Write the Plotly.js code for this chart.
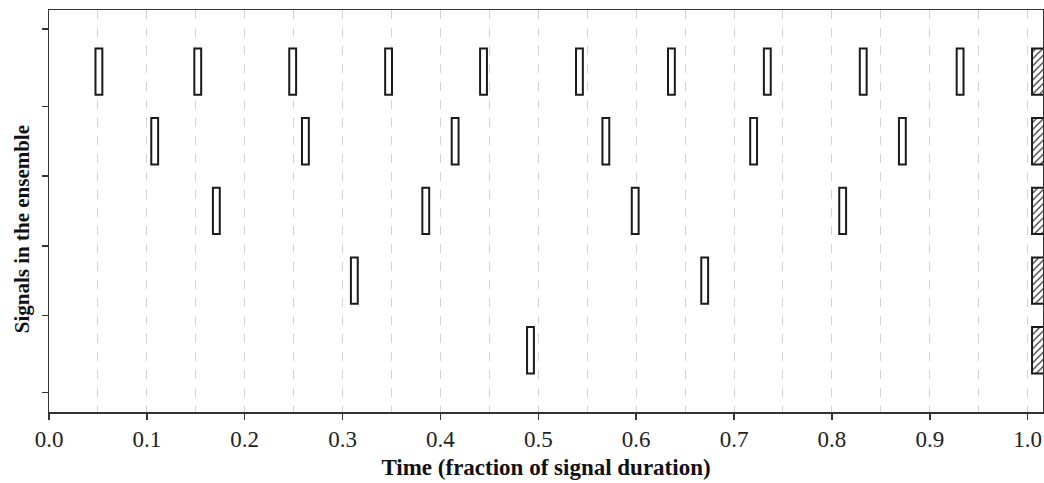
<!DOCTYPE html>
<html>
<head>
<meta charset="utf-8">
<script src="https://cdn.plot.ly/plotly-3.0.1.min.js"></script>
<style>
html, body { margin: 0; padding: 0; background: #fff; }
#chart { width: 1044px; height: 483px; }
</style>
</head>
<body>
<div id="chart"></div>
<script>
// Signal rows (5 = top row, 1 = bottom row) and pulse times (fraction of signal duration)
const rows = [5, 4, 3, 2, 1];
const pulseTimes = [
  [0.051, 0.152, 0.249, 0.347, 0.444, 0.542, 0.636, 0.734, 0.832, 0.931],
  [0.108, 0.262, 0.415, 0.569, 0.720, 0.872],
  [0.171, 0.385, 0.599, 0.811],
  [0.312, 0.670],
  [0.492]
];
// Common end pulse (hatched) start time for every signal
const endPulseStart = 1.0045;
const xTickVals = [0, 0.1, 0.2, 0.3, 0.4, 0.5, 0.6, 0.7, 0.8, 0.9, 1.0];
const xTickText = ["0.0", "0.1", "0.2", "0.3", "0.4", "0.5", "0.6", "0.7", "0.8", "0.9", "1.0"];
const yTickVals = [0.39, 1.5, 2.5, 3.5, 4.5, 5.61];

const pulseWidth = 0.007;
const pulseHeight = 0.666;

const bx = [], by = [], bbase = [];
rows.forEach((r, i) => {
  pulseTimes[i].forEach(t => {
    bx.push(pulseWidth);
    by.push(r);
    bbase.push(t - pulseWidth / 2);
  });
});

const pulses = {
  type: 'bar', orientation: 'h',
  x: bx, y: by, base: bbase, width: pulseHeight,
  marker: { color: '#ffffff', line: { color: '#1a1a1a', width: 2 } },
  hoverinfo: 'skip', showlegend: false
};

const endPulses = {
  type: 'bar', orientation: 'h',
  x: rows.map(() => 0.03), y: rows, base: rows.map(() => endPulseStart),
  width: pulseHeight,
  marker: {
    color: '#ffffff',
    line: { color: '#1a1a1a', width: 2 },
    pattern: { shape: '/', fgcolor: '#333333', bgcolor: '#ffffff', size: 5, solidity: 0.25 }
  },
  hoverinfo: 'skip', showlegend: false
};

const serif = '"Liberation Serif", "Times New Roman", serif';

const layout = {
  width: 1044, height: 483,
  margin: { l: 49, r: 1, t: 10, b: 71 },
  paper_bgcolor: '#ffffff', plot_bgcolor: '#ffffff',
  barmode: 'overlay',
  showlegend: false,
  xaxis: {
    range: [0, 1.0157],
    tickvals: xTickVals, ticktext: xTickText,
    ticks: 'outside', ticklen: 6, tickwidth: 1.5, tickcolor: '#333',
    showline: true, linecolor: '#333', linewidth: 1.5, mirror: true,
    showgrid: true, gridcolor: '#d4d4d4', gridwidth: 1, griddash: 'dash',
    minor: { dtick: 0.05, tick0: 0, showgrid: true, gridcolor: '#d4d4d4', gridwidth: 1, griddash: 'dash' },
    zeroline: false,
    tickfont: { family: serif, size: 23, color: '#222' },
    title: { text: '<b>Time (fraction of signal duration)</b>', font: { family: serif, size: 23, color: '#111' }, standoff: 8 }
  },
  yaxis: {
    range: [0.113, 5.885],
    tickvals: yTickVals, ticktext: yTickVals.map(() => ''),
    ticks: 'outside', ticklen: 6, tickwidth: 1.5, tickcolor: '#333',
    showline: true, linecolor: '#333', linewidth: 1.5, mirror: true,
    showgrid: false, zeroline: false,
    showticklabels: true
  },
  annotations: [{
    text: '<b>Signals in the ensemble</b>',
    xref: 'paper', yref: 'paper',
    x: -0.027, y: 0.455, xanchor: 'center', yanchor: 'middle',
    textangle: -90, showarrow: false,
    font: { family: serif, size: 21, color: '#111' }
  }]
};

Plotly.newPlot('chart', [pulses, endPulses], layout, { displayModeBar: false, staticPlot: true });
</script>
</body>
</html>
